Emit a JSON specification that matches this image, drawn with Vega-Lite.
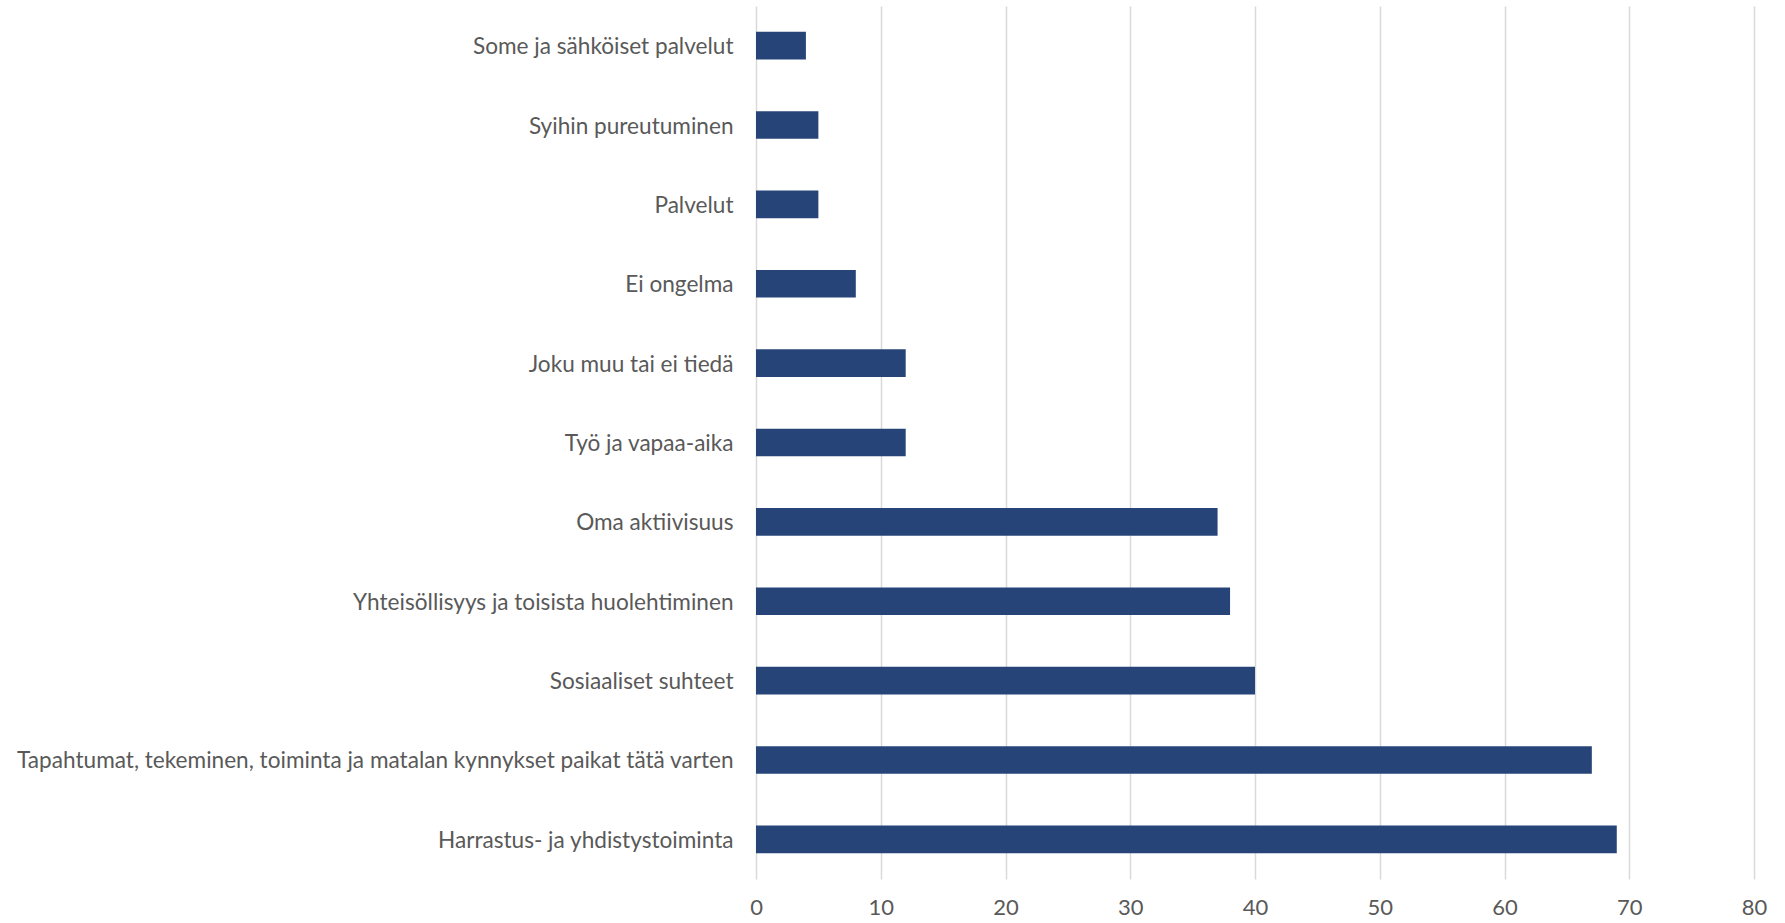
{
  "$schema": "https://vega.github.io/schema/vega-lite/v6.json",
  "autosize": {"type": "none"},
  "padding": {"left": 756, "top": 6, "right": 31, "bottom": 44},
  "width": 998,
  "height": 873,
  "background": "white",
  "data": {"values": [
    {"kategoria": "Some ja sähköiset palvelut", "arvo": 4},
    {"kategoria": "Syihin pureutuminen", "arvo": 5},
    {"kategoria": "Palvelut", "arvo": 5},
    {"kategoria": "Ei ongelma", "arvo": 8},
    {"kategoria": "Joku muu tai ei tiedä", "arvo": 12},
    {"kategoria": "Työ ja vapaa-aika", "arvo": 12},
    {"kategoria": "Oma aktiivisuus", "arvo": 37},
    {"kategoria": "Yhteisöllisyys ja toisista huolehtiminen", "arvo": 38},
    {"kategoria": "Sosiaaliset suhteet", "arvo": 40},
    {"kategoria": "Tapahtumat, tekeminen, toiminta ja matalan kynnykset paikat tätä varten", "arvo": 67},
    {"kategoria": "Harrastus- ja yhdistystoiminta", "arvo": 69}
  ]},
  "mark": {"type": "bar", "color": "#264478"},
  "encoding": {
    "y": {
      "field": "kategoria", "type": "nominal", "sort": null,
      "scale": {"paddingInner": 0.652, "paddingOuter": 0.326},
      "axis": {"title": null, "domain": false, "ticks": false, "labelPadding": 23, "labelOffset": 1.5,
               "labelFont": "Lato", "labelFontSize": 22.6, "labelColor": "#595959", "labelLimit": 0}
    },
    "x": {
      "field": "arvo", "type": "quantitative",
      "scale": {"domain": [0, 80], "nice": false},
      "axis": {"title": null, "domain": false, "ticks": false, "values": [0,10,20,30,40,50,60,70,80],
               "labelPadding": 18, "labelFont": "Lato", "labelFontSize": 22, "labelColor": "#595959",
               "gridColor": "#d9d9d9", "gridWidth": 1.5, "labelFlush": false}
    }
  },
  "config": {"view": {"stroke": null}}
}
